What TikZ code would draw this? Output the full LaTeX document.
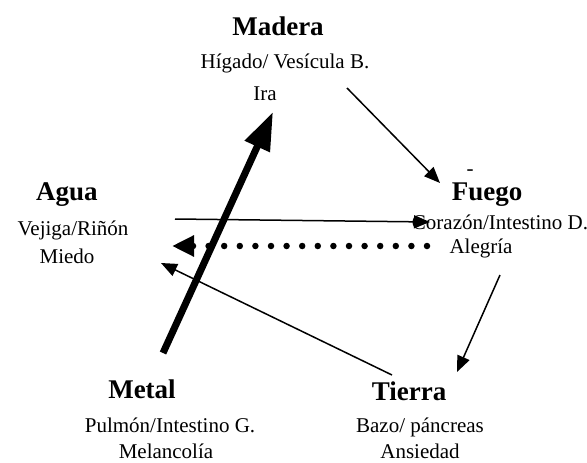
\documentclass[tikz,border=0pt]{standalone}
\usepackage{fontspec}
\setmainfont{Liberation Serif}
\usetikzlibrary{arrows.meta}
\begin{document}
\begin{tikzpicture}[x=1pt,y=-1pt,
  title/.style={anchor=base,inner sep=0pt,font=\fontsize{27}{30}\selectfont\bfseries},
  body/.style={anchor=base,inner sep=0pt,font=\fontsize{21}{24}\selectfont},
  thin/.style={line width=1.5pt,-{Triangle[length=16pt,width=13pt]}},
  thick/.style={line width=7pt,-{Triangle[length=38pt,width=26pt]}},
  dotarrow/.style={line width=6.5pt,line cap=round,dash pattern=on 0pt off 15.6pt,-{Triangle[length=22pt,width=20pt]}}]
\useasboundingbox (0,0) rectangle (587,463);
% Madera
\node[title] (madera) at (278,35) {Madera};
\node[body] (maderaB) at (285,68) {Hígado/ Vesícula B.};
\node[body] (maderaC) at (265,100) {Ira};
% Agua
\node[title] (agua) at (67,200) {Agua};
\node[body] (aguaB) at (73,235) {Vejiga/Riñón};
\node[body] (aguaC) at (67,263) {Miedo};
% Fuego
\node[body] (dash) at (470,175) {-};
\node[title] (fuego) at (487,200) {Fuego};
\node[body] (fuegoB) at (500,229) {Corazón/Intestino D.};
\node[body] (fuegoC) at (481,253) {Alegría};
% Metal
\node[title] (metal) at (142,398) {Metal};
\node[body] (metalB) at (170,432) {Pulmón/Intestino G.};
\node[body] (metalC) at (166,458) {Melancolía};
% Tierra
\node[title] (tierra) at (409,400) {Tierra};
\node[body] (tierraB) at (420,432) {Bazo/ páncreas};
\node[body] (tierraC) at (420,458) {Ansiedad};
% connector ends
\coordinate (a1s) at (347,88);  \coordinate (a1e) at (440,183);
\coordinate (a2s) at (500,275); \coordinate (a2e) at (457,372);
\coordinate (a3s) at (392,375); \coordinate (a3e) at (161,263);
\coordinate (a4s) at (175,219); \coordinate (a4e) at (430,222);
\coordinate (a5s) at (427,246); \coordinate (a5e) at (172,246);
\coordinate (a6s) at (163,353); \coordinate (a6e) at (273,112);
% connectors
\draw[thin] (a1s) -- (a1e);
\draw[thin] (a2s) -- (a2e);
\draw[thin] (a3s) -- (a3e);
\draw[thin] (a4s) -- (a4e);
\draw[dotarrow] (a5s) -- (a5e);
\draw[thick] (a6s) -- (a6e);
\end{tikzpicture}
\end{document}
